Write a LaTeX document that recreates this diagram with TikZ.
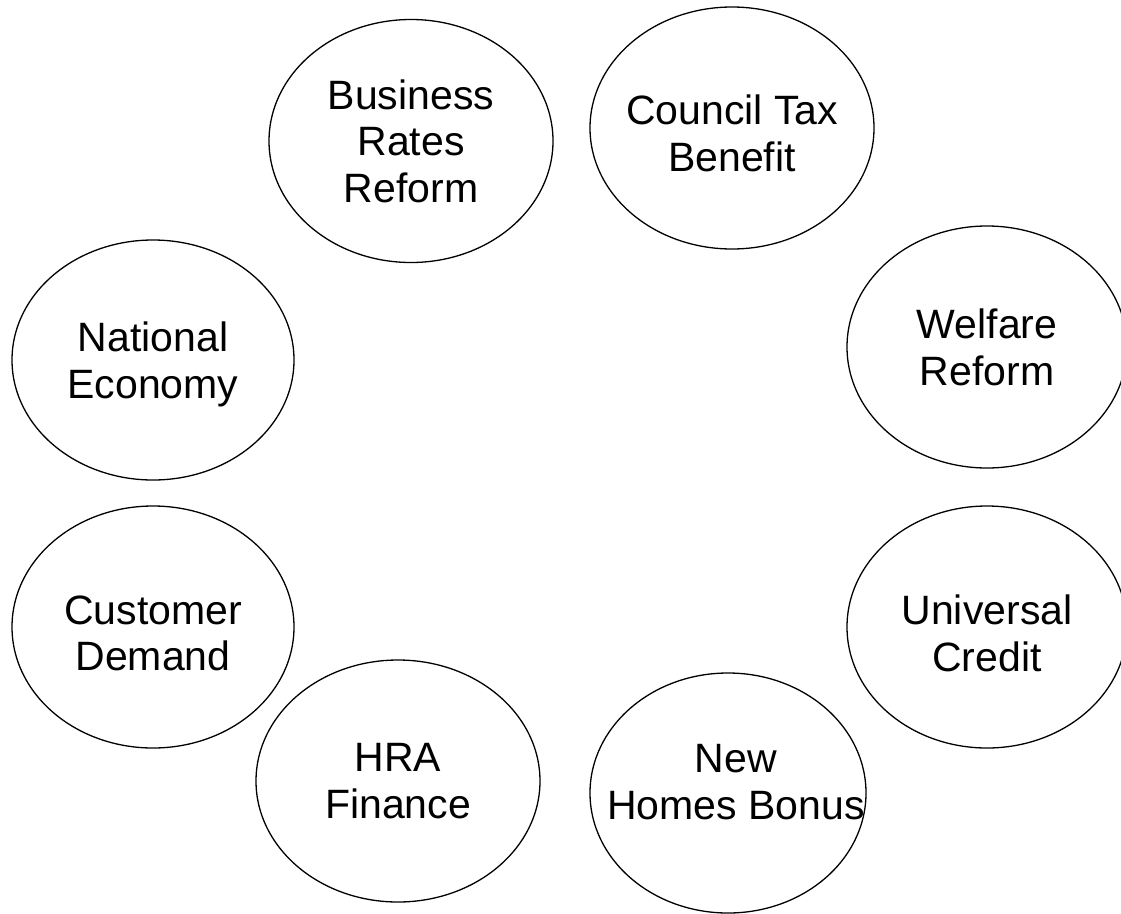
\documentclass[tikz,border=0pt]{standalone}
\usepackage{fontspec}
\setmainfont{Liberation Sans}
\usetikzlibrary{shapes.geometric}
\begin{document}
\begin{tikzpicture}[x=1pt,y=-1pt,
  bubble/.style={ellipse,draw=black,line width=1.3pt,inner sep=0pt,
    minimum width=#1},
  bubble/.default=284pt,
  lbl/.style={align=center,inner sep=0pt,text depth=0pt,
    font={\fontsize{41}{46.5}\selectfont}}]
  \useasboundingbox (0,0) rectangle (1121,913);
  \clip (0,0) rectangle (1121,913);

  % outer ring of eight pressure ellipses
  \node[bubble,minimum height=243pt] (biz) at (411,141) {};
  \node[bubble,minimum height=242pt] (ctb) at (732,128) {};
  \node[bubble=280pt,minimum height=242pt] (wel) at (987,347) {};
  \node[bubble=282pt,minimum height=240pt] (nat) at (153,360) {};
  \node[bubble=282pt,minimum height=242pt] (cus) at (153,627) {};
  \node[bubble=280pt,minimum height=242pt] (uni) at (987,627) {};
  \node[bubble,minimum height=242pt] (hra) at (398,781) {};
  \node[bubble=276pt,minimum height=240pt] (nhb) at (728,793) {};

  % labels
  \node[lbl] (bizt) at (411,141) {Business\\Rates\\Reform};
  \node[lbl] (ctbt) at (732,133) {Council Tax\\Benefit};
  \node[lbl] (welt) at (987,347) {Welfare\\Reform};
  \node[lbl] (natt) at (153,360) {National\\Economy};
  \node[lbl] (cust) at (153,633) {Customer\\Demand};
  \node[lbl] (unit) at (987,633) {Universal\\Credit};
  \node[lbl] (hrat) at (398,781) {HRA\\Finance};
  \node[lbl] (nhbt) at (736,782) {New\\Homes Bonus};
\end{tikzpicture}
\end{document}
